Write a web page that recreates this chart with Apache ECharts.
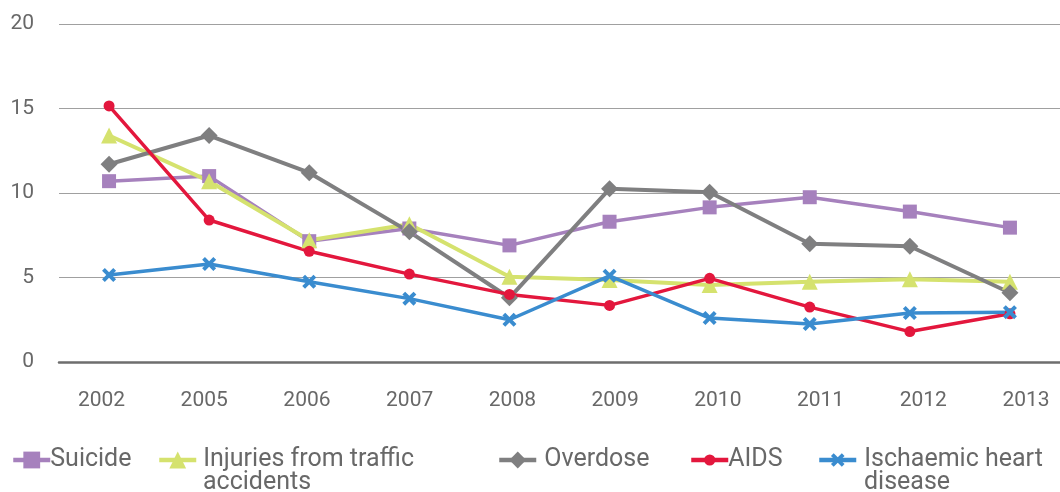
<!DOCTYPE html>
<html>
<head>
<meta charset="utf-8">
<script src="https://cdn.jsdelivr.net/npm/echarts@6/dist/echarts.min.js"></script>
<style>
   html, body { margin: 0; padding: 0; background: #fff; }
   #main { width: 1060px; height: 492px; }
</style>
</head>
<body>
<div id="main"></div>
<script>
var years = [ '2002', '2005', '2006', '2007', '2008', '2009', '2010', '2011', '2012', '2013' ] ;
var suicide = [ 10.7, 11.0, 7.15, 7.9, 6.9, 8.3, 9.15, 9.75, 8.9, 7.95 ] ;
var injuries = [ 13.4, 10.7, 7.2, 8.15, 5.05, 4.85, 4.55, 4.75, 4.9, 4.75 ] ;
var overdose = [ 11.7, 13.4, 11.2, 7.7, 3.8, 10.25, 10.05, 7.0, 6.85, 4.1 ] ;
var aids = [ 15.15, 8.4, 6.55, 5.2, 4.0, 3.35, 4.95, 3.25, 1.8, 2.85 ] ;
var heart = [ 5.15, 5.8, 4.75, 3.75, 2.5, 5.1, 2.6, 2.25, 2.9, 2.95 ] ;
var yTicks = [ 0, 5, 10, 15, 20 ] ;
var seriesNames = [ 'Suicide', 'Injuries from traffic accidents', 'Overdose', 'AIDS', 'Ischaemic heart disease' ] ;

var textColor = '#686868' ;
var legendFont = { fontSize: 25, fontFamily: 'Roboto' } ;
var crossPath = 'path://M0,2 L2,0 L5,3 L8,0 L10,2 L7,5 L10,8 L8,10 L5,7 L2,10 L0,8 L3,5 Z' ;

//图例第一行文字，第二行另外画
var legendFirstLine = {
   'Injuries from traffic accidents': 'Injuries from traffic',
   'Ischaemic heart disease': 'Ischaemic heart'
} ;

function makeSeries( name, data, color, symbol, size, width )
{
   return {
      name: name,
      type: 'line',
      data: data,
      xAxisIndex: 0,
      yAxisIndex: 0,
      symbol: symbol,
      symbolSize: size,
      showAllSymbol: true,
      lineStyle: { color: color, width: width },
      itemStyle: { color: color },
      emphasis: { disabled: true },
      animation: false
   } ;
}

function makeLegend( name, left, textPad, iconH )
{
   return {
      data: [ name ],
      left: left,
      top: 447.5,
      padding: 0,
      itemWidth: 37,
      itemHeight: iconH,
      lineStyle: { width: 4.5 },
      formatter: function( n ){
         return legendFirstLine[n] || n ;
      },
      textStyle: { color: textColor, fontSize: legendFont.fontSize, fontFamily: legendFont.fontFamily, lineHeight: 21,
                   padding: [ 0, 0, 0, textPad ] },
      selectedMode: false
   } ;
}

function secondLine( text, x )
{
   return {
      type: 'text',
      left: x,
      top: 470,
      silent: true,
      style: { text: text, fill: textColor, fontSize: legendFont.fontSize, fontFamily: legendFont.fontFamily }
   } ;
}

var chart = echarts.init( document.getElementById( 'main' ) ) ;
chart.setOption( {
   backgroundColor: '#fff',
   grid: [
      { left: 59, right: -3, top: 24, bottom: 130 },
      { left: 101.5, right: 34, top: 24, bottom: 130 }
   ],
   legend: [
      makeLegend( seriesNames[0], 11, -5, 21 ),
      makeLegend( seriesNames[1], 157, 2, 21 ),
      makeLegend( seriesNames[2], 497, 3, 21 ),
      makeLegend( seriesNames[3], 689, -5, 14 ),
      makeLegend( seriesNames[4], 817, 3, 17 )
   ],
   graphic: [
      secondLine( 'accidents', 203 ),
      secondLine( 'disease', 864 )
   ],
   xAxis: [
      {
         type: 'category',
         gridIndex: 0,
         data: years,
         boundaryGap: true,
         axisLine: { lineStyle: { color: '#6e6e6e', width: 2.5 } },
         axisTick: { show: false },
         axisLabel: { show: false }
      },
      {
         //刻度文字略宽于数据点
         type: 'category',
         gridIndex: 1,
         data: years,
         boundaryGap: false,
         axisLine: { show: false },
         axisTick: { show: false },
         axisLabel: { color: textColor, fontSize: 21, fontFamily: 'Roboto', margin: 28 }
      }
   ],
   yAxis: [
      {
         type: 'value',
         gridIndex: 0,
         min: yTicks[0],
         max: yTicks[ yTicks.length - 1 ],
         interval: 5,
         axisLine: { show: false },
         axisTick: { show: false },
         axisLabel: { color: textColor, fontSize: 21, fontFamily: 'Roboto', margin: 25 },
         splitLine: { lineStyle: { color: '#a0a0a0', width: 1.2 } }
      },
      {
         type: 'value',
         gridIndex: 1,
         min: yTicks[0],
         max: yTicks[ yTicks.length - 1 ],
         show: false
      }
   ],
   series: [
      makeSeries( seriesNames[0], suicide, '#a681bd', 'rect', 14, 3.5 ),
      makeSeries( seriesNames[1], injuries, '#d5e26e', 'triangle', 16, 4 ),
      makeSeries( seriesNames[2], overdose, '#7f7f80', 'diamond', 17, 4 ),
      makeSeries( seriesNames[3], aids, '#e3173d', 'circle', 11, 3.5 ),
      makeSeries( seriesNames[4], heart, '#3a8ccf', crossPath, 14, 3.5 )
   ]
} ) ;
</script>
</body>
</html>
